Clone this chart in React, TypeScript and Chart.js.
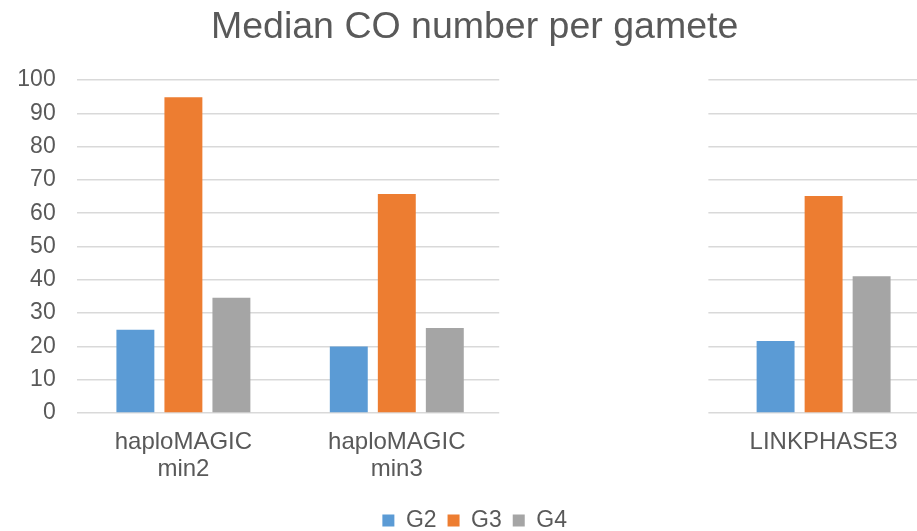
import React, { useEffect, useRef } from "react";
import { Chart, registerables } from "chart.js";

Chart.register(...registerables);

const categories: (string | string[])[] = [["haploMAGIC", "min2"], ["haploMAGIC", "min3"], "", "LINKPHASE3"];
const g2Values: (number | null)[] = [25, 20, null, 21.6];
const g3Values: (number | null)[] = [94.8, 65.8, null, 65.2];
const g4Values: (number | null)[] = [34.6, 25.5, null, 41.1];
const yTicks = { min: 0, max: 100, step: 10 };

const FONT = "'Liberation Sans', Arial, sans-serif";
const TEXT = "#595959";

const gapPlugin = {
  id: "gapBox",
  beforeDatasetsDraw(chart: any) {
    const x = chart.scales.x;
    const area = chart.chartArea;
    const cw = (area.right - area.left) / categories.length;
    const c = x.getPixelForValue(2);
    const ctx = chart.ctx;
    ctx.save();
    ctx.fillStyle = "#ffffff";
    ctx.fillRect(c - 0.52 * cw, area.top - 3, 0.98 * cw, area.bottom - area.top + 6);
    ctx.restore();
  },
};

export default function App() {
  const ref = useRef<HTMLCanvasElement>(null);
  useEffect(() => {
    if (!ref.current) return;
    const chart = new Chart(ref.current, {
      type: "bar",
      data: {
        labels: categories,
        datasets: [
          { label: "G2", data: g2Values, backgroundColor: "#5B9BD5" },
          { label: "G3", data: g3Values, backgroundColor: "#ED7D31" },
          { label: "G4", data: g4Values, backgroundColor: "#A5A5A5" },
        ],
      },
      plugins: [gapPlugin],
      options: {
        responsive: false,
        animation: false,
        devicePixelRatio: 1,
        datasets: { bar: { categoryPercentage: 0.675, barPercentage: 0.79 } },
        layout: { padding: { left: 19, right: 29.7, top: 0, bottom: 0 } },
        plugins: {
          title: {
            display: true,
            text: "Median CO number per gamete",
            color: TEXT,
            font: { family: FONT, size: 37.5, weight: "normal", lineHeight: 1.2 },
            padding: { top: 5, bottom: 30 },
          },
          legend: {
            position: "bottom",
            labels: {
              color: TEXT,
              font: { family: FONT, size: 23 },
              boxWidth: 12,
              boxHeight: 12,
              padding: 11,
            },
          },
          tooltip: { enabled: false },
        },
        scales: {
          x: {
            grid: { display: false, drawTicks: false },
            border: { display: false },
            ticks: { color: TEXT, font: { family: FONT, size: 24, lineHeight: 1.125 }, padding: 15.5, maxRotation: 0, autoSkip: false },
          },
          y: {
            min: yTicks.min,
            max: yTicks.max,
            grid: { color: "#D9D9D9", lineWidth: 1.5, drawTicks: false },
            border: { display: false },
            ticks: { stepSize: yTicks.step, color: TEXT, font: { family: FONT, size: 23 }, padding: 21 },
            afterFit: (scale: any) => { scale.width = 57.7; },
          },
        },
      },
    });
    return () => chart.destroy();
  }, []);
  return (
    <div style={{ position: "absolute", left: 0, top: 0, width: 917, height: 531, overflow: "hidden", background: "#fff" }}>
      <canvas ref={ref} width={960} height={542} style={{ display: "block" }} />
    </div>
  );
}
